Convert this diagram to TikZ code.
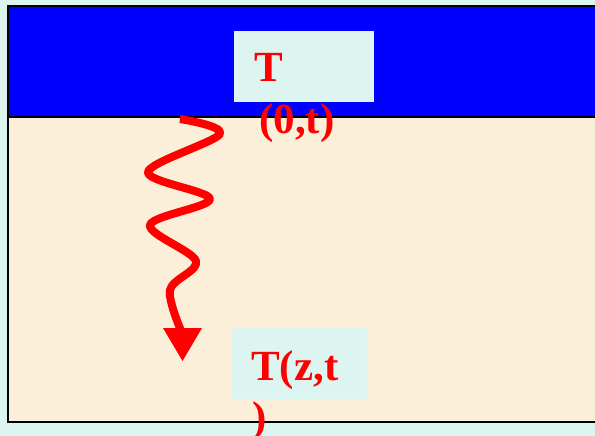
\documentclass[tikz,border=0pt]{standalone}
\usepackage{fontspec}
\setmainfont{Liberation Serif}
\definecolor{bgcyan}{RGB}{220,245,241}
\definecolor{sandbeige}{RGB}{251,239,217}
\definecolor{boxcyan}{RGB}{220,245,241}
\definecolor{labred}{RGB}{255,0,0}
\definecolor{deepblue}{RGB}{0,0,255}
\begin{document}
\begin{tikzpicture}[x=1pt,y=-1pt,
  lbl/.style={text=labred,font=\fontsize{43}{51}\selectfont\bfseries,inner sep=0pt,anchor=base west},
  labelbox/.style={fill=boxcyan,draw=none,inner sep=0pt,anchor=north west},
  wave/.style={draw=labred,line width=8pt,line join=round}]
\useasboundingbox (0,0) rectangle (595,436);
\clip (0,0) rectangle (595,436);
\fill[bgcyan] (0,0) rectangle (595,436);
\fill[sandbeige] (8,117) rectangle (600,422);
\fill[deepblue] (8,6) rectangle (600,117);
\draw[line width=2pt] (8,117) -- (600,117);
\draw[line width=2pt] (600,6) -- (8,6) -- (8,422) -- (600,422);
% label boxes
\node[labelbox, minimum width=140pt, minimum height=71pt] (box1) at (234,31) {};
\node[lbl] (t1a) at (254,82) {T};
\node[lbl] (t1b) at (259,133) {(0,t)};
\node[labelbox, minimum width=135pt, minimum height=71pt] (box2) at (232,328) {};
\node[lbl] (t2a) at (251,380) {T(z,t};
\node[lbl] (t2b) at (252,431) {)};
% wavy arrow
\draw[wave] plot[smooth,tension=0.55] coordinates {(180,119) (220,134) (148,172) (210,199) (150,225) (196,261) (170,290) (182,333)};
\fill[labred] (163,328) -- (202,328) -- (182.5,361) -- cycle;
\end{tikzpicture}
\end{document}
